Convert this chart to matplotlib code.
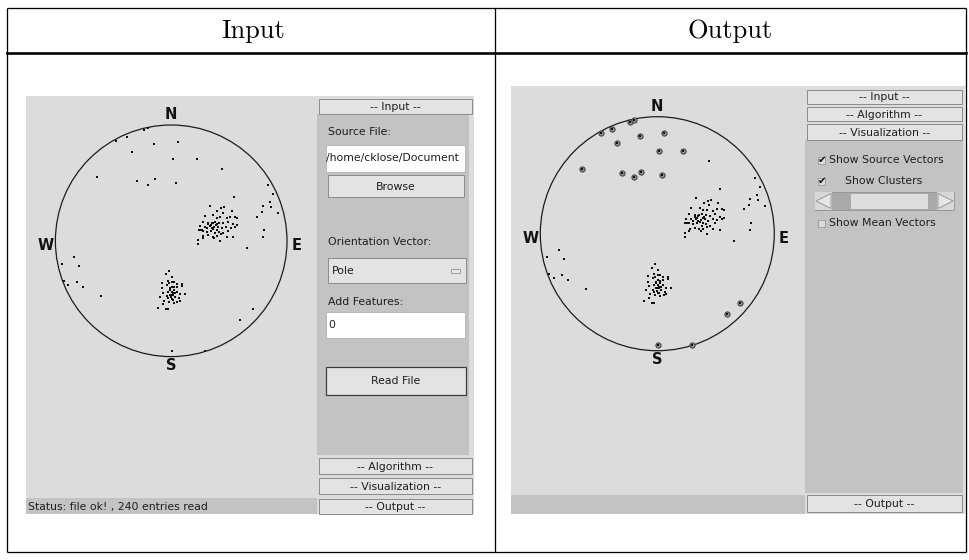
import matplotlib
matplotlib.use("Agg")
import matplotlib.pyplot as plt
from matplotlib.patches import Rectangle, Circle, Polygon

# ---------------- data ----------------
HEADERS = ["Input", "Output"]
COMPASS = ["N", "S", "W", "E"]

# points in units of the net radius (x to the east, y to the south)
ne_cluster_x = [0.335, 0.430, 0.459, 0.398, 0.444, 0.522, 0.292, 0.364, 0.393, 0.421, 0.479, 0.508,
                0.551, 0.571, 0.272, 0.321, 0.349, 0.378, 0.416, 0.450, 0.493, 0.537, 0.571, 0.249,
                0.292, 0.335, 0.370, 0.407, 0.436, 0.473, 0.514, 0.551, 0.237, 0.272, 0.306, 0.341,
                0.378, 0.416, 0.450, 0.493, 0.277, 0.321, 0.358, 0.393, 0.428, 0.479, 0.537, 0.234,
                0.272, 0.370, 0.421, 0.234, 0.321, 0.341, 0.358, 0.387, 0.398, 0.364, 0.349, 0.306,
                0.393, 0.249, 0.263]
ne_cluster_y = [-0.301, -0.281, -0.289, -0.260, -0.243, -0.260, -0.217, -0.223, -0.200, -0.203, -0.194, -0.209,
                -0.209, -0.200, -0.165, -0.157, -0.151, -0.165, -0.157, -0.151, -0.165, -0.145, -0.137, -0.128,
                -0.122, -0.128, -0.116, -0.122, -0.108, -0.122, -0.113, -0.122, -0.093, -0.088, -0.079, -0.088,
                -0.070, -0.079, -0.070, -0.088, -0.044, -0.050, -0.036, -0.041, -0.059, -0.036, -0.030, -0.007,
                -0.021, -0.021, 0.002, 0.028, -0.145, -0.137, -0.157, -0.137, -0.145, -0.099, -0.108, -0.108,
                -0.093, -0.093, -0.093]

s_cluster_x = [-0.016, -0.045, 0.004, -0.082, -0.025, 0.024, 0.090, 0.004, 0.047, 0.004, -0.039, 0.047,
               -0.082, -0.010, 0.024, 0.090, -0.068, -0.025, 0.013, 0.047, 0.076, 0.119, -0.097, -0.039,
               -0.005, 0.033, 0.070, -0.062, -0.016, 0.018, 0.053, -0.074, 0.024, 0.076, -0.111, -0.048,
               -0.025, 0.004, 0.024, -0.016, -0.010, 0.004, 0.018, -0.010, -0.025, 0.004, 0.033]
s_cluster_y = [0.258, 0.290, 0.310, 0.362, 0.344, 0.353, 0.373, 0.396, 0.396, 0.353, 0.382, 0.373,
               0.411, 0.411, 0.402, 0.390, 0.448, 0.440, 0.454, 0.440, 0.460, 0.460, 0.482, 0.477,
               0.488, 0.482, 0.497, 0.517, 0.526, 0.511, 0.526, 0.546, 0.534, 0.517, 0.577, 0.592,
               0.592, 0.468, 0.425, 0.367, 0.425, 0.440, 0.468, 0.468, 0.497, 0.505, 0.454]

# scattered poles that the output marks as a cluster
marked_x = [-0.479, -0.384, -0.235, -0.197, -0.148, 0.061, -0.341, 0.013, 0.223, -0.645, -0.298,
            -0.203, -0.139, 0.044, 0.704, 0.594, 0.007, 0.295]
marked_y = [-0.862, -0.899, -0.957, -0.975, -0.836, -0.857, -0.771, -0.708, -0.708, -0.555, -0.516,
            -0.484, -0.531, -0.499, 0.592, 0.684, 0.954, 0.949]

# other scattered poles
scatter_x = [0.438, 0.539, 0.833, 0.882, 0.853, 0.864, 0.795, 0.920, 0.787, 0.741, 0.804, 0.795,
             0.652, -0.842, -0.940, -0.794, -0.925, -0.887, -0.816, -0.764, -0.607]
scatter_y = [-0.624, -0.382, -0.478, -0.401, -0.335, -0.290, -0.300, -0.238, -0.247, -0.207, -0.092,
             -0.035, 0.065, 0.140, 0.200, 0.218, 0.345, 0.381, 0.353, 0.400, 0.476]

INPUT_LABELS = ["Source File:", "Orientation Vector:", "Add Features:"]
SOURCE_PATH = "/home/cklose/Document"
ORIENTATION = "Pole"
FEATURES = "0"
STATUS = "Status: file ok! , 240 entries read"
SECTIONS = ["-- Input --", "-- Algorithm --", "-- Visualization --", "-- Output --"]
VIS_OPTIONS = ["Show Source Vectors", "Show Clusters", "Show Mean Vectors"]

# ---------------- figure ----------------
W, H = 970, 560
fig = plt.figure(figsize=(W / 100, H / 100), dpi=100)
fig.patch.set_facecolor("white")
ax = fig.add_axes([0, 0, 1, 1])
ax.set_xlim(0, W)
ax.set_ylim(H, 0)
ax.axis("off")

PX = 0.72  # points per pixel
CANVAS = "#dcdcdc"
PANEL = "#c3c3c3"
BTN = "#e3e3e3"
BTN_EDGE = "#8c8c8c"
TXT = "#1e1e1e"
GUI_FS = 7.8


def rect(x0, y0, x1, y1, fc, ec="none", lw=0.0, z=1):
    ax.add_patch(Rectangle((x0, y0), x1 - x0, y1 - y0, facecolor=fc, edgecolor=ec,
                           linewidth=lw, zorder=z))


def button(x0, y0, x1, y1, label, ec=BTN_EDGE, lw=1.0):
    rect(x0, y0, x1, y1, BTN, ec, lw * PX, z=2)
    ax.text((x0 + x1) / 2, (y0 + y1) / 2 + 0.5, label, ha="center", va="center",
            fontsize=GUI_FS, color=TXT, zorder=3)


def label(x, y, s, **kw):
    ax.text(x, y, s, ha="left", va="center", fontsize=GUI_FS, color=TXT, zorder=3, **kw)


# ---------------- table ----------------
lk = dict(color="black", lw=1.3 * PX, zorder=5, solid_capstyle="butt")
ax.plot([7, 966], [8, 8], **lk)
ax.plot([7, 966], [552, 552], **lk)
ax.plot([7, 7], [8, 552], **lk)
ax.plot([966, 966], [8, 552], **lk)
ax.plot([495, 495], [8, 552], **lk)
ax.plot([7, 966], [52.5, 52.5], color="black", lw=2.6 * PX, zorder=5)
ax.text(253, 31, HEADERS[0], ha="center", va="center", fontsize=19, family="cmr10", color="black")
ax.text(730, 31, HEADERS[1], ha="center", va="center", fontsize=19, family="cmr10", color="black")

# ---------------- left screenshot ----------------
rect(26, 96, 474, 514, CANVAS)
rect(26, 498, 317, 514, PANEL)
rect(317, 114, 469, 455, PANEL)
button(319, 99, 472, 114, SECTIONS[0])
button(319, 458, 472, 474, SECTIONS[1])
button(319, 478, 472, 494, SECTIONS[2])
button(319, 499, 472, 514, SECTIONS[3])
label(328, 132, INPUT_LABELS[0])
rect(326, 145, 465, 172, "white", "#a8a8a8", 0.7 * PX, z=2)
label(326.5, 158.5, SOURCE_PATH, clip_on=True)
button(328, 175, 464, 197, "Browse")
label(328, 242, INPUT_LABELS[1])
rect(328, 258, 466, 283, BTN, BTN_EDGE, 1.0 * PX, z=2)
label(332, 270.5, ORIENTATION)
rect(451, 268.5, 460, 272.5, "#e8e8e8", "#8c8c8c", 0.8 * PX, z=3)
label(328, 302, INPUT_LABELS[2])
rect(326, 312, 465, 338, "white", "#a8a8a8", 0.7 * PX, z=2)
label(328, 325, FEATURES)
button(326, 367, 466, 395, "Read File", ec="#3a3a3a", lw=1.2)
label(28, 507, STATUS)

# ---------------- right screenshot ----------------
rect(511, 86, 965, 514, CANVAS)
rect(511, 495, 805, 514, PANEL)
rect(805, 140, 963, 493, PANEL)
button(807, 90, 962, 104, SECTIONS[0])
button(807, 107, 962, 121, SECTIONS[1])
button(807, 124, 962, 140, SECTIONS[2])
button(807, 495, 962, 512, SECTIONS[3])

# check boxes
box_y = [160, 181, 223.5]
checked = [True, True, False]
text_x = [829, 845, 829]
for by, chk, tx, name in zip(box_y, checked, text_x, VIS_OPTIONS):
    rect(818.5, by - 3.5, 825.5, by + 3.5, "#dcdcdc", "#8c8c8c", 0.7 * PX, z=2)
    if chk:
        ax.text(822, by + 0.3, "\u2714", ha="center", va="center", fontsize=7.5, color="#111111", zorder=4)
    label(tx, by, name)

# slider
rect(815, 192, 954, 210, "#a9a9a9", "#8c8c8c", 0.7 * PX, z=2)
rect(850, 193, 928, 209, "#dedede", "#9a9a9a", 0.6 * PX, z=3)
rect(815, 192, 832, 210, "#d8d8d8", "none", 0, z=3)
rect(937, 192, 954, 210, "#d8d8d8", "none", 0, z=3)
ax.add_patch(Polygon([[831, 193.5], [816, 201], [831, 208.5]], closed=True, facecolor="#e6e6e6",
                     edgecolor="#8a8a8a", lw=0.8 * PX, zorder=4))
ax.add_patch(Polygon([[938, 193.5], [953, 201], [938, 208.5]], closed=True, facecolor="#e6e6e6",
                     edgecolor="#8a8a8a", lw=0.8 * PX, zorder=4))


# ---------------- stereonets ----------------
def stereonet(cx, cy, r, mark_clusters):
    pad = 1.3
    nax = fig.add_axes([(cx - pad * r) / W, 1 - (cy + pad * r) / H, 2 * pad * r / W, 2 * pad * r / H])
    nax.set_xlim(-pad, pad)
    nax.set_ylim(pad, -pad)
    nax.axis("off")
    nax.patch.set_visible(False)
    nax.add_patch(Circle((0, 0), 1.0, fill=False, lw=0.9, ec="#1c1c1c", zorder=2))
    dot = dict(marker="s", s=2.6, c="#101010", linewidths=0, zorder=3)
    nax.scatter(ne_cluster_x, ne_cluster_y, **dot)
    nax.scatter(s_cluster_x, s_cluster_y, **dot)
    nax.scatter(scatter_x, scatter_y, **dot)
    if mark_clusters:
        nax.scatter(marked_x, marked_y, marker="o", s=14, facecolors="#8f8f8f",
                    edgecolors="#3c3c3c", linewidths=0.7, zorder=4)
        nax.scatter(marked_x, marked_y, marker="s", s=2.0, c="#101010", linewidths=0, zorder=5)
    else:
        nax.scatter(marked_x, marked_y, **dot)
    fk = dict(ha="center", va="center", fontsize=10.5, fontweight="bold", color="#111111")
    nax.text(0, -1.09, COMPASS[0], **fk)
    nax.text(0, 1.075, COMPASS[1], **fk)
    nax.text(-1.086, 0.04, COMPASS[2], **fk)
    nax.text(1.083, 0.04, COMPASS[3], **fk)


stereonet(171.2, 240.8, 115.8, False)
stereonet(657.3, 233.7, 117.0, True)

fig.savefig("out.png", dpi=100)
